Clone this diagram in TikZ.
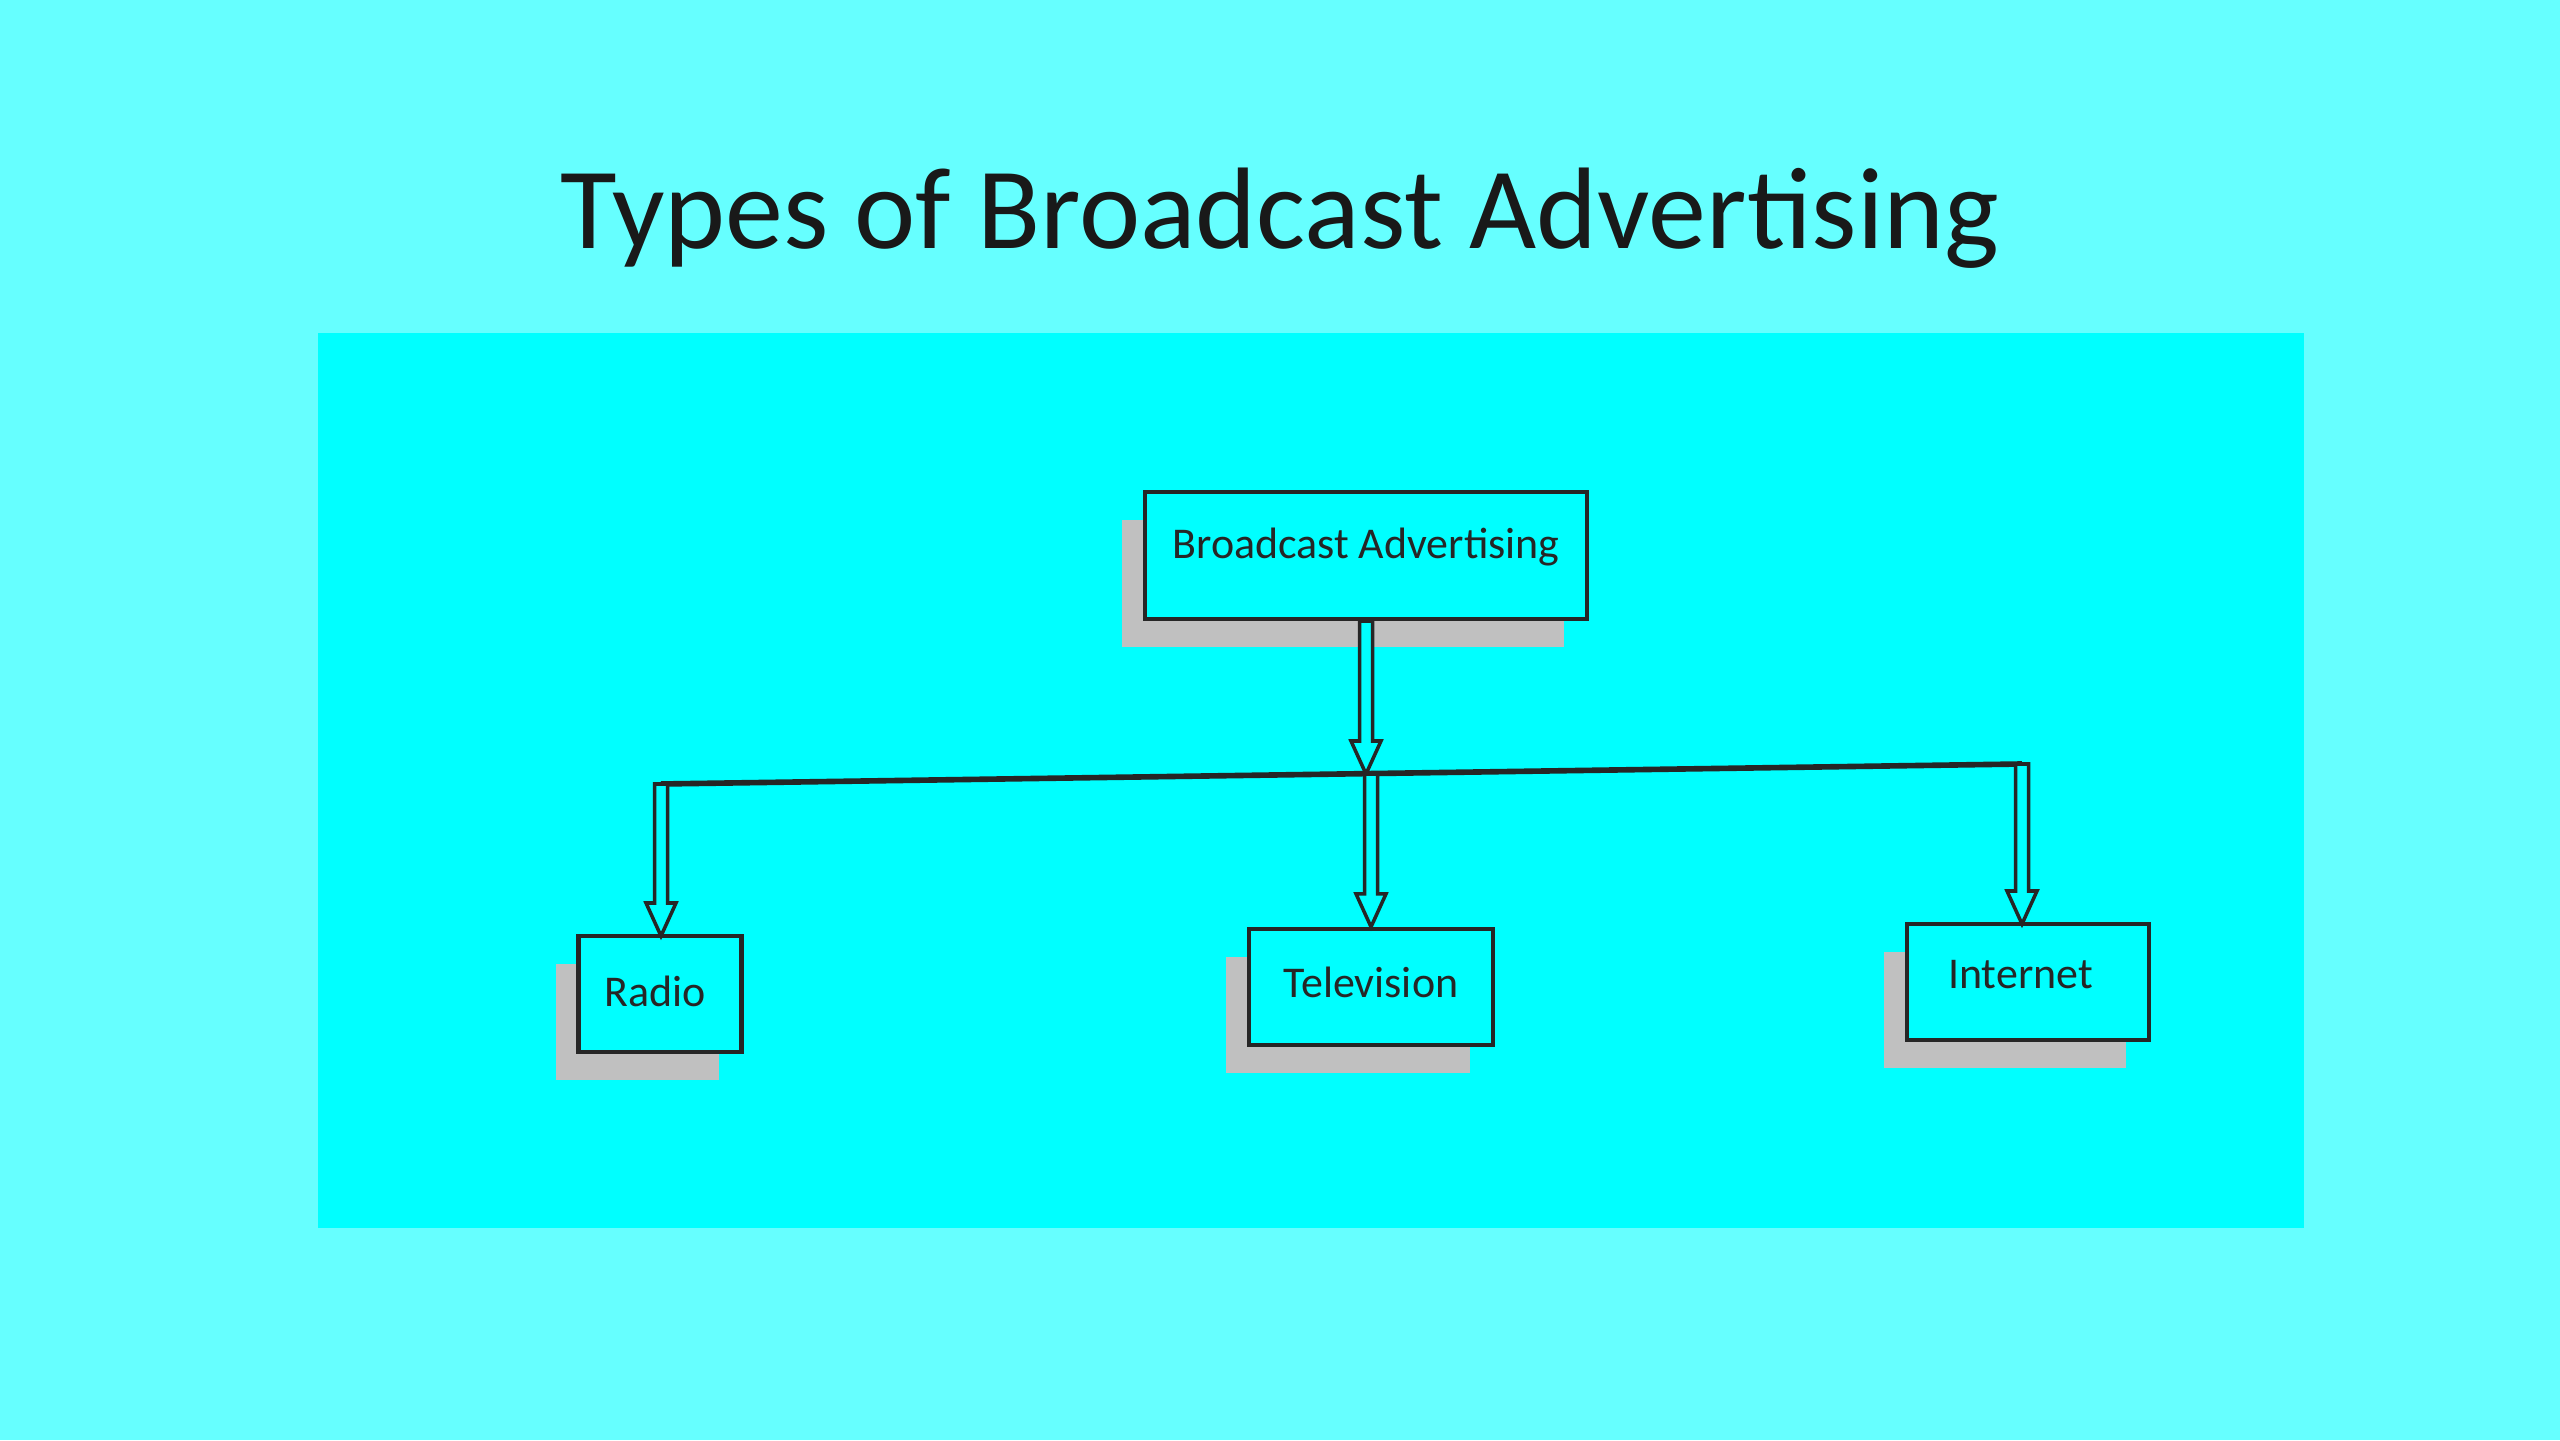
\documentclass[tikz,border=0pt]{standalone}
\usepackage{fontspec}
\setmainfont{Carlito}
\usetikzlibrary{calc}
\definecolor{outerbg}{HTML}{66FFFF}
\definecolor{innerbg}{HTML}{00FFFF}
\definecolor{shadowgray}{HTML}{C0C0C0}
\tikzset{
  box/.style={draw=black!85, line width=1.2pt, fill=innerbg, minimum height=1.16cm, font=\fontsize{12.5}{14}\selectfont, text=black!85, inner sep=0pt},
  shadowbox/.style={fill=shadowgray, draw=none, minimum height=1.16cm, inner sep=0pt},
  arr/.style={draw=black!85, line width=1pt, fill=innerbg},
  hline/.style={draw=black!85, line width=1.6pt}
}
\newcommand\barrow[2]{\draw[arr] let \p1=(#1), \p2=(#2) in (\x1-0.065cm,\y1) -- (\x1-0.065cm,\y2+0.33cm) -- (\x1-0.15cm,\y2+0.33cm) -- (\x1,\y2) -- (\x1+0.15cm,\y2+0.33cm) -- (\x1+0.065cm,\y2+0.33cm) -- (\x1+0.065cm,\y1) -- cycle;}
\begin{document}
\begin{tikzpicture}
\fill[outerbg] (0,0) rectangle (25.6,14.4);
\useasboundingbox (0,0) rectangle (25.6,14.4);
\fill[innerbg] (3.18,2.12) rectangle (23.04,11.07);
\node[font=\fontsize{33}{40}\selectfont, text=black!90] (title) at (12.8,12.22) {Types of Broadcast Advertising};
% shadows
\node[shadowbox, minimum width=4.42cm, minimum height=1.27cm] (s0) at (13.43,8.565) {};
\node[shadowbox, minimum width=1.63cm] (s1) at (6.37,4.18) {};
\node[shadowbox, minimum width=2.44cm] (s2) at (13.48,4.25) {};
\node[shadowbox, minimum width=2.42cm] (s3) at (20.05,4.30) {};
% boxes
\node[box, minimum width=4.42cm, minimum height=1.27cm, text depth=0pt] (ba) at (13.66,8.845) {\raisebox{0.25cm}{Broadcast Advertising}};
\node[box, minimum width=1.63cm] (radio) at (6.60,4.46) {\hspace{-0.1cm}\raisebox{0.05cm}{Radio}};
\node[box, minimum width=2.44cm] (tv) at (13.71,4.53) {\raisebox{0.1cm}{Television}};
\node[box, minimum width=2.42cm] (net) at (20.28,4.58) {\hspace{-0.15cm}\raisebox{0.15cm}{Internet}};
% line
\coordinate (l1) at (6.61,6.56);
\coordinate (l2) at (20.22,6.76);
\coordinate (j) at (13.68,6.66);
\draw[hline] (l1) -- (l2);
\barrow{ba.south}{j}
\coordinate (j2) at (13.71,6.66);
\barrow{j2}{tv.north}
\coordinate (rt) at (6.61,5.04);
\barrow{l1}{rt}
\coordinate (nt) at (20.22,5.16);
\barrow{l2}{nt}
\end{tikzpicture}
\end{document}
